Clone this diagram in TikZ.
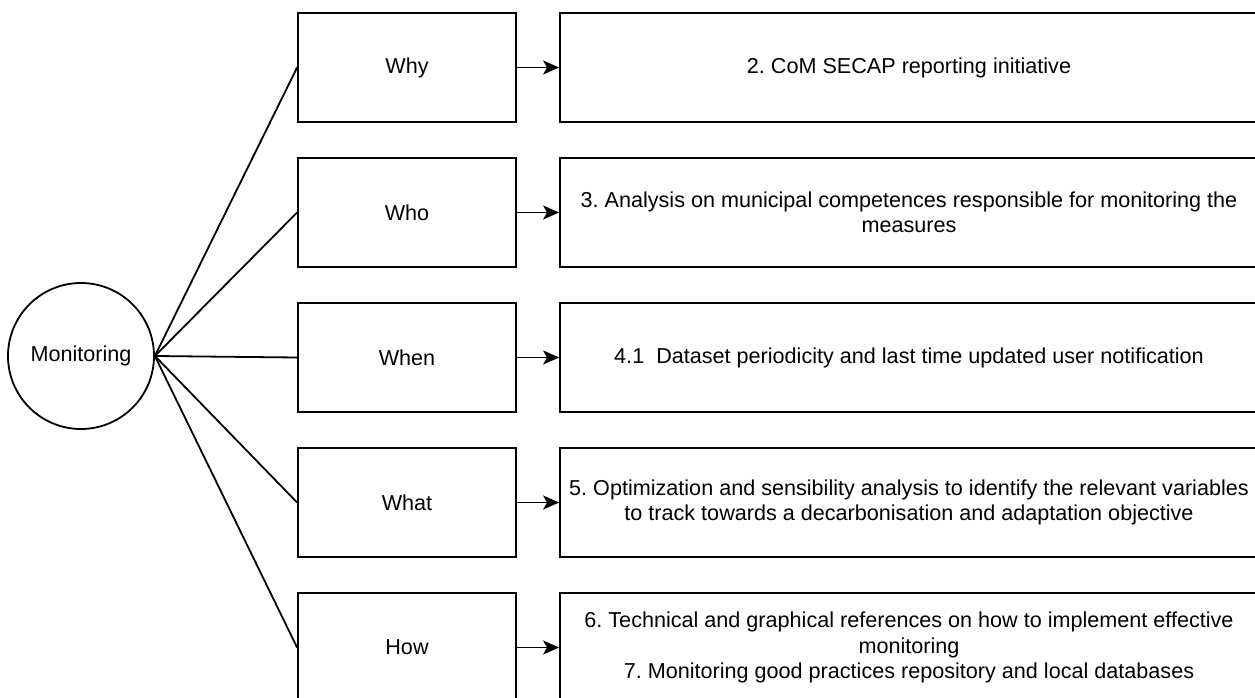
\documentclass[tikz,border=0pt]{standalone}
\usepackage{fontspec}
\setmainfont{Liberation Sans}
\usetikzlibrary{arrows.meta}
\frenchspacing
\tikzset{
    every node/.style={font=\fontsize{21.6}{25.5}\selectfont},
    hub/.style={draw, circle, minimum size=146pt, inner sep=0pt},
    askbox/.style={draw, minimum width=218pt, minimum height=109pt},
    answerbox/.style={draw, minimum width=698pt, minimum height=109pt, align=center}
}
\begin{document}
\begin{tikzpicture}[x=1pt,y=-1pt,line width=1.8pt]
        \useasboundingbox (0,0) rectangle (1255,698);
        \clip (0,0) rectangle (1255,698);
        \node[hub] (mon) at (81,356) {Monitoring};
        \foreach \k/\q/\t in {0/Why/{2. CoM SECAP reporting initiative},
            1/Who/{3. Analysis on municipal competences responsible for monitoring the\\measures},
            2/When/{4.1\ \ Dataset periodicity and last time updated user notification},
            3/What/{5. Optimization and sensibility analysis to identify the relevant variables\\to track towards a decarbonisation and adaptation objective},
            4/How/{6. Technical and graphical references on how to implement effective\\monitoring\\7. Monitoring good practices repository and local databases}} {
            \node[askbox] (q\k) at (407,67.5+145*\k) {\q};
            \node[answerbox] (a\k) at (909,67.5+145*\k) {\t};
            \draw (mon.east) -- (q\k.west);
            \draw[-{Stealth[length=16pt,width=14pt,inset=4pt]}] (q\k.east) -- (a\k.west);
        }
    \end{tikzpicture}
\end{document}
